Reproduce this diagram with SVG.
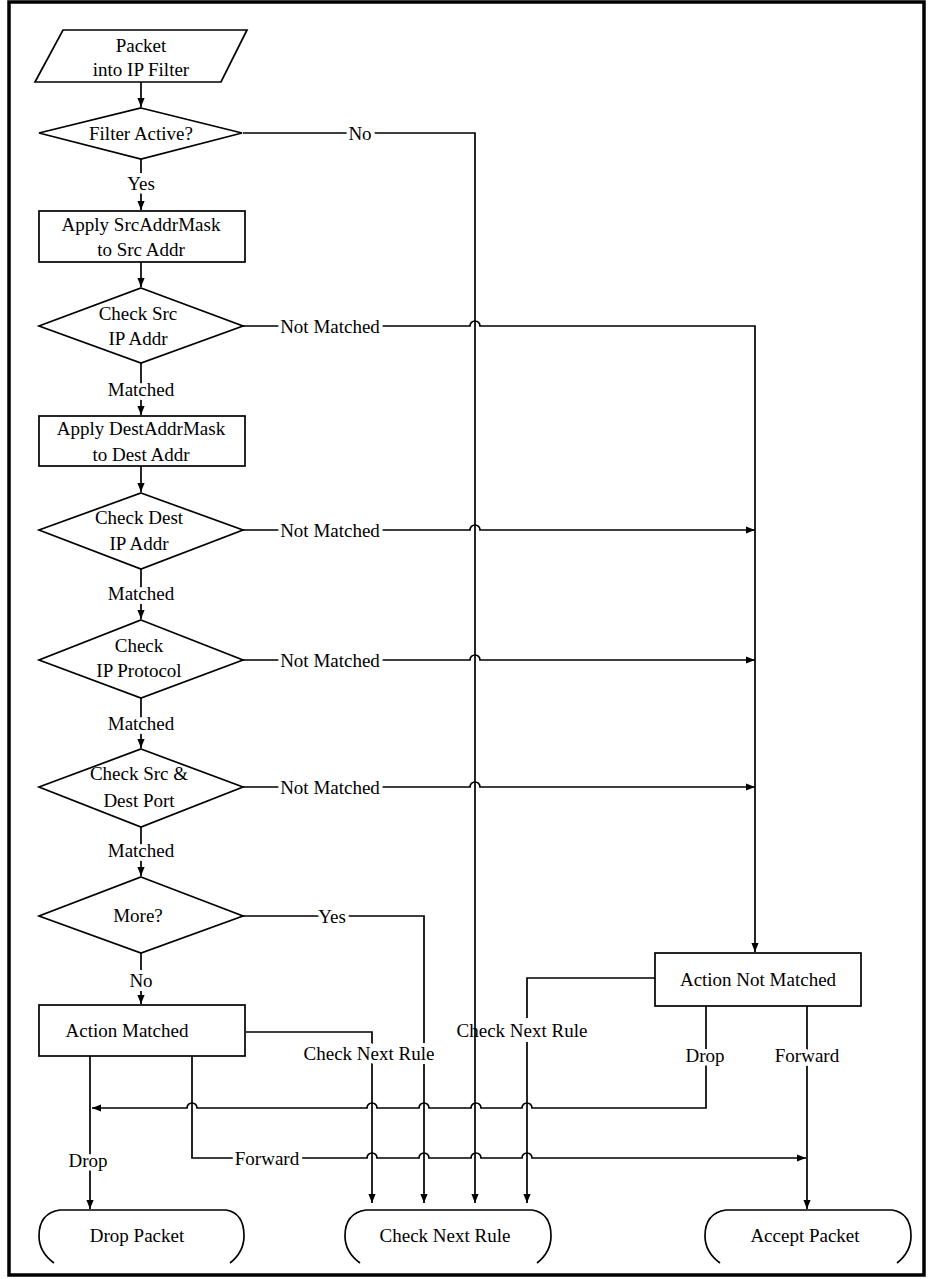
<svg xmlns="http://www.w3.org/2000/svg" width="932" height="1279" viewBox="0 0 932 1279">
<defs>
<marker id="ah" viewBox="0 0 10 10" refX="10" refY="5" markerWidth="9" markerHeight="9" markerUnits="userSpaceOnUse" orient="auto-start-reverse">
<path d="M0,1 L10,5 L0,9 Z" fill="#000"/>
</marker>
<style>
.s{fill:#fff;stroke:#000;stroke-width:1.7}
.c{fill:none;stroke:#000;stroke-width:1.7}
text{font-family:"Liberation Serif","Times New Roman",serif;font-size:19px;fill:#000;text-anchor:middle;dominant-baseline:central}
.l{paint-order:stroke;stroke:#fff;stroke-width:8px;stroke-linejoin:round}
</style>
</defs>
<rect width="932" height="1279" fill="#fff"/>
<rect x="9" y="2" width="915" height="1273" fill="none" stroke="#000" stroke-width="3.5"/>

<g id="connectors">
<path class="c" d="M141 82 V107" marker-end="url(#ah)"/>
<path class="c" d="M141 159 V210" marker-end="url(#ah)"/>
<path class="c" d="M141 262 V287" marker-end="url(#ah)"/>
<path class="c" d="M141 363 V415" marker-end="url(#ah)"/>
<path class="c" d="M141 466 V492" marker-end="url(#ah)"/>
<path class="c" d="M141 569 V619" marker-end="url(#ah)"/>
<path class="c" d="M141 698 V748" marker-end="url(#ah)"/>
<path class="c" d="M141 827 V876" marker-end="url(#ah)"/>
<path class="c" d="M141 953 V1004" marker-end="url(#ah)"/>
<path class="c" d="M243 133 H475 V1203" marker-end="url(#ah)"/>
<path class="c" d="M243 326 H470 A5 5 0 0 1 480 326 H755 V952" marker-end="url(#ah)"/>
<path class="c" d="M243 530 H470 A5 5 0 0 1 480 530 H755" marker-end="url(#ah)"/>
<path class="c" d="M243 660 H470 A5 5 0 0 1 480 660 H755" marker-end="url(#ah)"/>
<path class="c" d="M243 787 H470 A5 5 0 0 1 480 787 H755" marker-end="url(#ah)"/>
<path class="c" d="M243 916 H424 V1203" marker-end="url(#ah)"/>
<path class="c" d="M246 1032 H372 V1203" marker-end="url(#ah)"/>
<path class="c" d="M90 1056 V1209" marker-end="url(#ah)"/>
<path class="c" d="M192 1056 V1158 H367 A5 5 0 0 1 377 1158 H419 A5 5 0 0 1 429 1158 H471 A5 5 0 0 1 481 1158 H522 A5 5 0 0 1 532 1158 H806" marker-end="url(#ah)"/>
<path class="c" d="M655 978 H527 V1203" marker-end="url(#ah)"/>
<path class="c" d="M92 1108 H187 A5 5 0 0 1 197 1108 H367 A5 5 0 0 1 377 1108 H419 A5 5 0 0 1 429 1108 H471 A5 5 0 0 1 481 1108 H522 A5 5 0 0 1 532 1108 H706 V1006" marker-start="url(#ah)"/>
<path class="c" d="M807 1006 V1209" marker-end="url(#ah)"/>
<text class="l" x="360" y="133">No</text>
<text class="l" x="141" y="183">Yes</text>
<text class="l" x="330" y="326">Not Matched</text>
<text class="l" x="141" y="389">Matched</text>
<text class="l" x="330" y="530">Not Matched</text>
<text class="l" x="141" y="593">Matched</text>
<text class="l" x="330" y="660">Not Matched</text>
<text class="l" x="141" y="723">Matched</text>
<text class="l" x="330" y="787">Not Matched</text>
<text class="l" x="141" y="850">Matched</text>
<text class="l" x="332" y="916">Yes</text>
<text class="l" x="141" y="980">No</text>
<text class="l" x="369" y="1053">Check Next Rule</text>
<rect x="500" y="1018" width="50" height="24" fill="#fff"/>
<text x="522" y="1030">Check Next Rule</text>
<text class="l" x="705" y="1055">Drop</text>
<text class="l" x="807" y="1055">Forward</text>
<text class="l" x="88" y="1160">Drop</text>
<text class="l" x="267" y="1158">Forward</text>
</g>

<g id="n-packet"><path class="s" d="M63 30 H247 L221 82 H35 Z"/><text x="141" y="45">Packet</text><text x="141" y="69">into IP Filter</text></g>
<g id="n-filter"><path class="s" d="M141 108 L242 133 L141 159 L39 133 Z"/><text x="141" y="133">Filter Active?</text></g>
<g id="n-srcmask"><rect class="s" x="39" y="211" width="206" height="51"/><text x="141" y="224">Apply SrcAddrMask</text><text x="141" y="249">to  Src Addr</text></g>
<g id="n-checksrc"><path class="s" d="M141 288 L243 326 L141 363 L39 326 Z"/><text x="138" y="313">Check Src</text><text x="138" y="338">IP Addr</text></g>
<g id="n-destmask"><rect class="s" x="39" y="416" width="206" height="50"/><text x="141" y="428">Apply DestAddrMask</text><text x="141" y="454">to  Dest Addr</text></g>
<g id="n-checkdest"><path class="s" d="M141 493 L243 530 L141 569 L39 530 Z"/><text x="139" y="517">Check Dest</text><text x="139" y="543">IP Addr</text></g>
<g id="n-proto"><path class="s" d="M141 620 L243 660 L141 698 L39 660 Z"/><text x="139" y="645">Check</text><text x="139" y="670">IP Protocol</text></g>
<g id="n-port"><path class="s" d="M141 749 L243 787 L141 827 L39 787 Z"/><text x="139" y="773">Check   Src &amp;</text><text x="139" y="800">Dest Port</text></g>
<g id="n-more"><path class="s" d="M141 877 L243 916 L141 953 L39 916 Z"/><text x="138" y="915">More?</text></g>
<g id="n-actmatched"><rect class="s" x="39" y="1005" width="206" height="51"/><text x="127" y="1030">Action Matched</text></g>
<g id="n-actnot"><rect class="s" x="655" y="953" width="206" height="53"/><text x="758" y="979">Action Not Matched</text></g>
<g id="n-drop"><path class="c" d="M54 1263 Q39 1252 39 1236 Q39 1213 60 1210 H226 Q244 1213 244 1236 Q244 1252 230 1263"/><text x="137" y="1235">Drop Packet</text></g>
<g id="n-next"><path class="c" d="M360 1263 Q345 1252 345 1236 Q345 1213 366 1210 H532 Q551 1213 551 1236 Q551 1252 537 1263"/><text x="445" y="1235">Check Next Rule</text></g>
<g id="n-accept"><path class="c" d="M720 1263 Q705 1252 705 1236 Q705 1213 726 1210 H892 Q911 1213 911 1236 Q911 1252 897 1263"/><text x="805" y="1235">Accept Packet</text></g>
</svg>
